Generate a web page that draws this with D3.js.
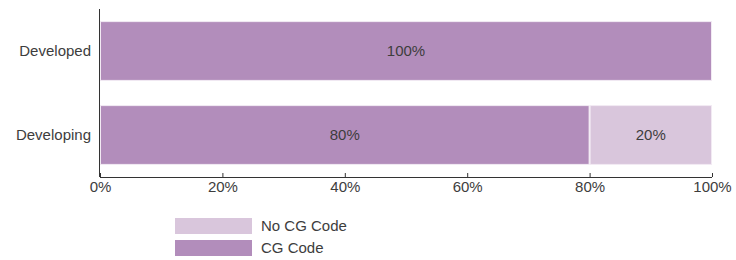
<!DOCTYPE html>
<html>
<head>
<meta charset="utf-8">
<script src="https://cdn.jsdelivr.net/npm/d3@7"></script>
<style>
  body { margin: 0; background: #fff; }
  svg text { font-family: "Liberation Sans", Arial, sans-serif; fill: #3d3d3d; }
</style>
</head>
<body>
<div id="graf"></div>
<script>
// datos
categorias = ['Developed', 'Developing']
cgCode = [100, 80]
noCgCode = [0, 20]
series = ['CG Code', 'No CG Code']
colores = ['#b28dbb', '#d9c6dc']
ticks = [0, 20, 40, 60, 80, 100]

ancho_total = 736
alto_total = 260
margins = { top: 9, left: 100, right: 24, bottom: 83 }
ancho = ancho_total - margins.left - margins.right
alto = alto_total - margins.top - margins.bottom
fuente = '15px'

svg = d3.select('#graf').append('svg')
        .attr('width', ancho_total)
        .attr('height', alto_total)

g = svg.append('g')
        .attr('transform', `translate(${ margins.left }, ${ margins.top })`)

x = d3.scaleLinear().domain([0, 100]).range([0, ancho])
y = d3.scaleBand().domain(categorias).range([0, alto])
        .paddingInner(0.3).paddingOuter(0.15)

datos = categorias.map((c, i) => ({ cat: c, 'CG Code': cgCode[i], 'No CG Code': noCgCode[i] }))
pila = d3.stack().keys(series)(datos)

color = d3.scaleOrdinal().domain(series).range(colores)

capas = g.selectAll('g.capa').data(pila).enter()
        .append('g').attr('class', 'capa')
        .attr('fill', d => color(d.key))

capas.selectAll('rect')
        .data(d => d.filter(p => p[1] - p[0] > 0))
        .enter().append('rect')
        .attr('x', d => x(d[0]) + 0.5)
        .attr('y', d => y(d.data.cat))
        .attr('width', d => x(d[1]) - x(d[0]) - 1)
        .attr('height', y.bandwidth())
        .attr('stroke', '#f2eaf3')
        .attr('stroke-width', 1)

capas.selectAll('text')
        .data(d => d.filter(p => p[1] - p[0] > 0))
        .enter().append('text')
        .attr('x', d => x((d[0] + d[1]) / 2))
        .attr('y', d => y(d.data.cat) + y.bandwidth() / 2)
        .attr('dy', '0.35em')
        .attr('text-anchor', 'middle')
        .style('font-size', fuente)
        .text(d => `${ d[1] - d[0] }%`)

// ejes
xAxisCall = d3.axisBottom(x)
        .tickValues(ticks)
        .tickSize(-4)
        .tickFormat(d => `${ d }%`)
xAxisGroup = g.append('g')
        .attr('transform', `translate(0, ${ alto })`)
        .call(xAxisCall)
xAxisGroup.select('.domain').attr('stroke', '#333').attr('d', `M0,0.5H${ ancho }`)
xAxisGroup.selectAll('.tick line').attr('stroke', '#333')
xAxisGroup.selectAll('text')
        .attr('y', 4)
        .style('font-size', fuente)
        .style('font-family', '"Liberation Sans", Arial, sans-serif')
        .attr('fill', '#3d3d3d')

yAxisCall = d3.axisLeft(y).tickSize(0).tickPadding(9)
yAxisGroup = g.append('g').call(yAxisCall)
yAxisGroup.select('.domain').attr('stroke', '#333').attr('d', `M-0.5,0V${ alto }`)
yAxisGroup.selectAll('text')
        .style('font-size', fuente)
        .style('font-family', '"Liberation Sans", Arial, sans-serif')
        .attr('fill', '#3d3d3d')

// leyenda
leyenda = svg.append('g').attr('transform', 'translate(175, 218)')
orden = ['No CG Code', 'CG Code']
items = leyenda.selectAll('g').data(orden).enter()
        .append('g').attr('transform', (d, i) => `translate(0, ${ i * 22 })`)
items.append('rect')
        .attr('width', 77).attr('height', 16)
        .attr('fill', d => color(d))
items.append('text')
        .attr('x', 86).attr('y', 8).attr('dy', '0.35em')
        .style('font-size', fuente)
        .text(d => d)
</script>
</body>
</html>
